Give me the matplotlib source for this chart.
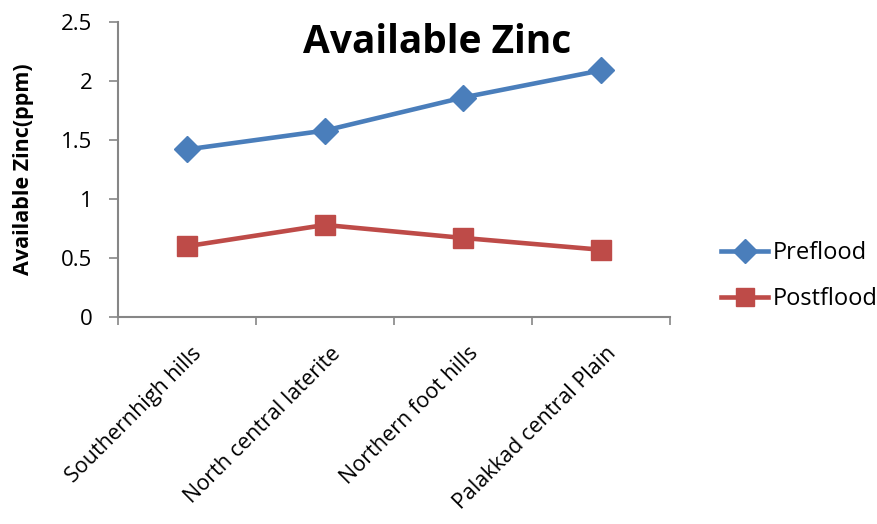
import matplotlib
matplotlib.use("Agg")
import matplotlib.pyplot as plt
from matplotlib.lines import Line2D
import matplotlib.transforms as mtransforms

plt.rcParams['font.family'] = ['Open Sans', 'DejaVu Sans']

# Data
regions = ["Southernhigh hills", "North central laterite",
           "Northern foot hills", "Palakkad central Plain"]
preflood = [1.42, 1.58, 1.86, 2.09]
postflood = [0.60, 0.78, 0.67, 0.57]
y_ticks = [0, 0.5, 1, 1.5, 2, 2.5]
y_tick_labels = ["0", "0.5", "1", "1.5", "2", "2.5"]

blue = "#4A7EBB"
red = "#BE4B48"
axis_grey = "#868686"

fig = plt.figure(figsize=(8.77, 5.24), dpi=100)
ax = fig.add_axes([118 / 877, 1 - 317 / 524, (670 - 118) / 877, (317 - 22) / 524])

x = list(range(len(regions)))
ax.plot(x, preflood, color=blue, lw=3.3, marker="D", ms=13,
        mfc=blue, mec=blue, label="Preflood", zorder=3)
ax.plot(x, postflood, color=red, lw=3.3, marker="s", ms=14,
        mfc=red, mec=red, label="Postflood", zorder=3)

ax.set_xlim(-0.5, len(regions) - 0.5)
ax.set_ylim(0, 2.5)

ax.set_yticks(y_ticks)
ax.set_yticklabels(y_tick_labels, fontsize=16)
ax.tick_params(axis="y", direction="out", length=6.5, width=1.2,
               color=axis_grey, pad=12)

# Category labels on major ticks, boundary tick marks on minor ticks
ax.set_xticks(x)
ax.set_xticklabels(regions, fontsize=15.5, rotation=45, ha="right",
                   va="center", rotation_mode="anchor")
ax.tick_params(axis="x", which="major", length=0, pad=24)
ax.set_xticks([i - 0.5 for i in range(len(regions) + 1)], minor=True)
ax.tick_params(axis="x", which="minor", direction="out", length=6,
               width=1.2, color=axis_grey)
shift = mtransforms.ScaledTranslation(12 / 100, 0, fig.dpi_scale_trans)
for lab in ax.get_xticklabels():
    lab.set_transform(lab.get_transform() + shift)

for side in ("top", "right"):
    ax.spines[side].set_visible(False)
for side in ("left", "bottom"):
    ax.spines[side].set_color(axis_grey)
    ax.spines[side].set_linewidth(1.5)

ax.set_ylabel("Available Zinc(ppm)", fontsize=15.5, fontweight="bold")
ax.yaxis.set_label_coords((34 - 118) / 552, 0.5)

fig.text(437 / 877, 1 - 43 / 524, "Available Zinc", fontsize=28,
         fontweight="bold", ha="center", va="center")

handles = [
    Line2D([], [], color=blue, lw=3.3, marker="D", ms=12, mfc=blue, mec=blue),
    Line2D([], [], color=red, lw=3.3, marker="s", ms=13, mfc=red, mec=red),
]
fig.legend(handles, ["Preflood", "Postflood"], loc="center left",
           bbox_to_anchor=(700 / 877, 1 - 276 / 524), frameon=False,
           fontsize=17, handlelength=2.0, handletextpad=0.2,
           labelspacing=0.95)

fig.savefig("out.png", dpi=100)
